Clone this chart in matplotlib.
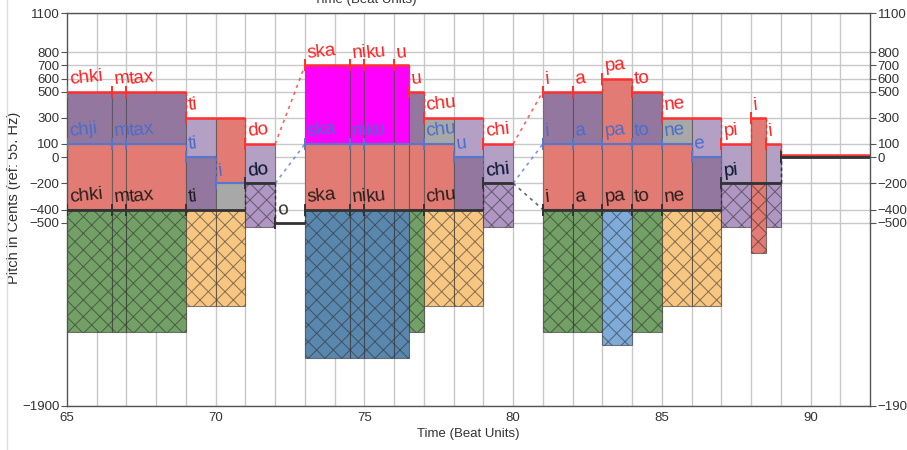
import matplotlib
matplotlib.use('Agg')
import matplotlib.pyplot as plt
from matplotlib.lines import Line2D

plt.rcParams['font.family'] = ['Liberation Sans', 'DejaVu Sans']
plt.rcParams['hatch.linewidth'] = 0.7

# ---------------- data ----------------
# red tier (upper contour)
red_start = [65, 66.5, 67, 69, 71, 73, 74.5, 75, 76, 76.5, 77, 79, 81, 82, 83, 84, 85, 87, 88, 88.5, 89]
red_end   = [66.5, 67, 69, 71, 72, 74.5, 75, 76, 76.5, 77, 79, 80, 82, 83, 84, 85, 87, 88, 88.5, 89, 92]
red_val   = [500, 500, 500, 300, 100, 700, 700, 700, 700, 500, 300, 100, 500, 500, 600, 500, 300, 100, 300, 100, 15]
red_lab   = ['chki', 'm', 'tax', 'ti', 'do', 'ska', 'ni', 'ku', 'u', 'u', 'chu', 'chi', 'i', 'a', 'pa', 'to', 'ne', 'pi', 'i', 'i', '']

# blue tier (middle contour)
blue_start = [65, 66.5, 67, 69, 70, 71, 73, 74.5, 75, 77, 78, 79, 81, 82, 83, 84, 85, 86, 87, 89]
blue_end   = [66.5, 67, 69, 70, 71, 72, 74.5, 75, 77, 78, 79, 80, 82, 83, 84, 85, 86, 87, 89, 92]
blue_val   = [100, 100, 100, 0, -200, -200, 100, 100, 100, 100, 0, -200, 100, 100, 100, 100, 100, 0, -200, 0]
blue_lab   = ['chji', 'm', 'tax', 'ti', 'i', 'do', 'ska', 'ni', 'ku', 'chu', 'u', 'chi', 'i', 'a', 'pa', 'to', 'ne', 'e', 'pi', '']

# black tier (lower contour)
black_start = [65, 66.5, 67, 69, 71, 72, 73, 74.5, 75, 77, 79, 81, 82, 83, 84, 85, 87, 89]
black_end   = [66.5, 67, 69, 71, 72, 73, 74.5, 75, 77, 79, 80, 82, 83, 84, 85, 87, 89, 92]
black_val   = [-400, -400, -400, -400, -200, -500, -400, -400, -400, -400, -200, -400, -400, -400, -400, -400, -200, 0]
black_lab   = ['chki', 'm', 'tax', 'ti', 'do', 'o', 'ska', 'ni', 'ku', 'chu', 'chi', 'i', 'a', 'pa', 'to', 'ne', 'pi', '']

PU, LP, SA, MA, GR = '#94779f', '#b49fc5', '#e17b73', '#ff00ff', '#a8a8a8'
GN, OR, DB, LB, HP = '#73a066', '#f7c681', '#5a87ae', '#7eabd8', '#b096c2'

# upper fills (between blue and red)
top_x0  = [65, 66.5, 67, 69, 70, 71, 73, 74.5, 75, 76, 76.5, 77, 78, 79, 81, 82, 83, 84, 85, 86, 87, 88, 88.5]
top_x1  = [66.5, 67, 69, 70, 71, 72, 74.5, 75, 76, 76.5, 77, 78, 79, 80, 82, 83, 84, 85, 86, 87, 88, 88.5, 89]
top_lo  = [100, 100, 100, 0, -200, -200, 100, 100, 100, 100, 100, 100, 0, -200, 100, 100, 100, 100, 100, 0, -200, -200, -200]
top_hi  = [500, 500, 500, 300, 300, 100, 700, 700, 700, 700, 500, 300, 300, 100, 500, 500, 600, 500, 300, 300, 100, 300, 100]
top_col = [PU, PU, PU, LP, SA, LP, MA, MA, MA, MA, PU, GR, LP, LP, PU, PU, SA, PU, GR, LP, LP, SA, LP]

# middle fills (between black and blue)
mid_x0  = [65, 66.5, 67, 69, 70, 73, 74.5, 75, 76, 76.5, 77, 78, 81, 82, 83, 84, 85, 86]
mid_x1  = [66.5, 67, 69, 70, 71, 74.5, 75, 76, 76.5, 77, 78, 79, 82, 83, 84, 85, 86, 87]
mid_lo  = [-400] * 18
mid_hi  = [100, 100, 100, 0, -200, 100, 100, 100, 100, 100, 100, 0, 100, 100, 100, 100, 100, 0]
mid_col = [SA, SA, SA, PU, GR, SA, SA, SA, SA, SA, SA, PU, SA, SA, SA, SA, SA, PU]

# hatched fills (below black)
hat_x0  = [65, 66.5, 67, 69, 70, 71, 73, 74.5, 75, 76, 76.5, 77, 78, 79, 81, 82, 83, 84, 85, 86, 87, 88, 88.5]
hat_x1  = [66.5, 67, 69, 70, 71, 72, 74.5, 75, 76, 76.5, 77, 78, 79, 80, 82, 83, 84, 85, 86, 87, 88, 88.5, 89]
hat_lo  = [-1333, -1333, -1333, -1133, -1133, -533, -1533, -1533, -1533, -1533, -1333, -1133, -1133, -533,
           -1333, -1333, -1433, -1333, -1133, -1133, -533, -733, -533]
hat_hi  = [-400, -400, -400, -400, -400, -200, -400, -400, -400, -400, -400, -400, -400, -200,
           -400, -400, -400, -400, -400, -400, -200, -200, -200]
hat_col = [GN, GN, GN, OR, OR, HP, DB, DB, DB, DB, GN, OR, OR, HP, GN, GN, LB, GN, OR, OR, HP, SA, HP]

yticks = [1100, 800, 700, 600, 500, 300, 100, 0, -200, -400, -500, -1900]
xticks = [65, 70, 75, 80, 85, 90]

# ---------------- figure ----------------
fig = plt.figure(figsize=(9.07, 4.5), dpi=100)
ax = fig.add_axes([67 / 907, 44 / 450, 803 / 907, 393 / 450])
ax.set_xlim(65, 92)
ax.set_ylim(-1900, 1100)

# grid
for yv in yticks:
    ax.axhline(yv, color='#c8c8c8', lw=1.0, zorder=0)
for xv in range(66, 92):
    ax.axvline(xv, color='#c8c8c8', lw=1.0, zorder=0)

edge = (0.25, 0.25, 0.25, 0.55)
ax.bar(top_x0, [h - l for h, l in zip(top_hi, top_lo)], width=[b - a for a, b in zip(top_x0, top_x1)],
       bottom=top_lo, align='edge', color=top_col, edgecolor=edge, linewidth=0.8, zorder=1)
ax.bar(mid_x0, [h - l for h, l in zip(mid_hi, mid_lo)], width=[b - a for a, b in zip(mid_x0, mid_x1)],
       bottom=mid_lo, align='edge', color=mid_col, edgecolor=edge, linewidth=0.8, zorder=1)
ax.bar(hat_x0, [h - l for h, l in zip(hat_hi, hat_lo)], width=[b - a for a, b in zip(hat_x0, hat_x1)],
       bottom=hat_lo, align='edge', color=hat_col, edgecolor=(0.15, 0.15, 0.15, 0.55), linewidth=0.8,
       hatch='xx', zorder=1)


def tier(starts, ends, vals, labs, color, lw, z, txtcolor, talpha=1.0):
    ax.hlines(vals, starts, ends, color=color, lw=lw, zorder=z)
    ax.plot(starts, vals, ls='none', marker='|', ms=8, mew=1.4, color=color, zorder=z)
    for i in range(1, len(starts)):
        if abs(starts[i] - ends[i - 1]) < 1e-9:
            if vals[i] != vals[i - 1]:
                ax.plot([starts[i], starts[i]], [vals[i - 1], vals[i]], color=color, lw=1.0,
                        ls=(0, (2.5, 2)), zorder=z)
        else:
            ax.plot([ends[i - 1], starts[i]], [vals[i - 1], vals[i]], color=color, lw=1.2,
                    ls=(0, (2, 2.5)), alpha=0.75, zorder=z)
    for s, v, t in zip(starts, vals, labs):
        if t:
            ax.annotate(t, (s, v), xytext=(2, 5.5), textcoords='offset points', rotation=6,
                        rotation_mode='anchor', ha='left', va='baseline', fontsize=13.5,
                        color=txtcolor, alpha=talpha, zorder=6)


tier(red_start, red_end, red_val, red_lab, '#ff3030', 1.8, 3, '#ff2020')
tier(blue_start, blue_end, blue_val, blue_lab, '#5577cc', 1.5, 4, '#4a6ccc')
tier(black_start, black_end, black_val, black_lab, '#333333', 2.0, 5, '#111111', 0.88)

# axes styling
ax.set_yticks(yticks)
ax.set_xticks(xticks)
ax.tick_params(axis='y', which='both', direction='out', length=4, width=0.8, color='#555555',
               labelsize=9.5, labelcolor='#333333', right=True, labelright=True, pad=1.5)
ax.tick_params(axis='x', direction='out', length=0, labelsize=9.5, labelcolor='#333333', pad=4)
for sp in ax.spines.values():
    sp.set_color('#555555')
    sp.set_linewidth(1.0)
ax.set_xlabel('Time (Beat Units)', fontsize=9.5, color='#333333', labelpad=3)
ax.set_ylabel('Pitch in Cents (ref: 55. Hz)', fontsize=10.5, color='#333333')
ax.yaxis.label.set_verticalalignment('center')
ax.yaxis.set_label_coords(-0.066, 0.53)

# cropped label of the panel above and frame remnant
fig.text(365 / 907, 1 - 3 / 450, 'Time (Beat Units)', ha='center', va='baseline', fontsize=9.5,
         color='#333333')
fig.add_artist(Line2D([7 / 907, 7 / 907], [0, 1], color='#dddddd', lw=1.0))

fig.savefig('out.png', dpi=100, facecolor='white')
